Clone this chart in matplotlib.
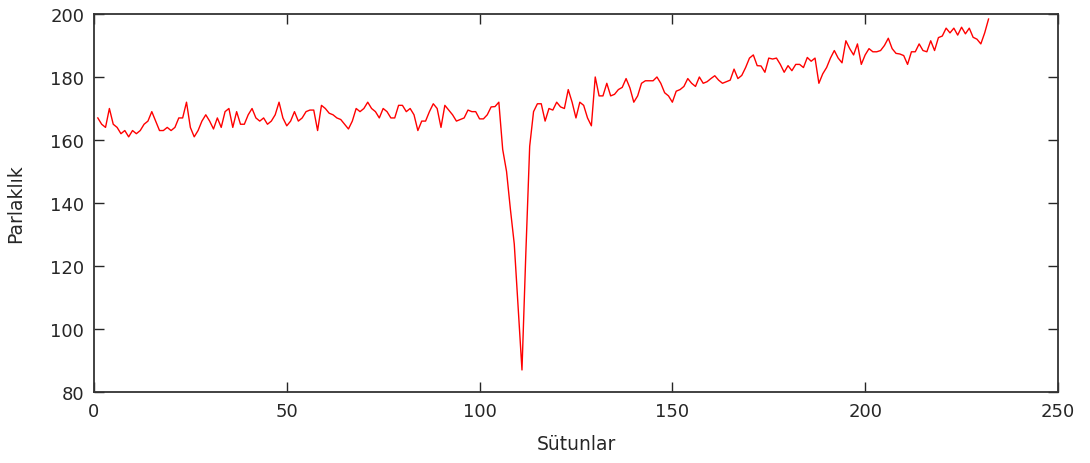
import numpy as np
import matplotlib.pyplot as plt

# Parlaklık değerleri, sütun 1..232 (görselden okunmuş)
parlaklik = [
    167, 165, 164, 170, 165, 164, 162, 163, 161, 163,
    162, 163, 165, 166, 169, 166, 163, 163, 164, 163,
    164, 167, 167, 172, 164, 161, 163, 166, 168, 166,
    163.5, 167, 164, 169, 170, 164, 169, 165, 165, 168,
    170, 167, 166, 167, 165, 166, 168, 172, 167, 164.5,
    166, 169, 166, 167, 169, 169.5, 169.5, 163, 171, 170,
    168.5, 168, 167, 166.5, 165, 163.5, 166, 170, 169, 170,
    172, 170, 169, 167, 170, 169, 167, 167, 171, 171,
    169, 170, 168, 163, 166, 166, 169, 171.5, 170, 164,
    171, 169.5, 168, 166, 166.5, 167, 169.5, 169, 169, 166.7,
    166.7, 168, 170.5, 170.6, 172, 157, 150, 138, 127, 107,
    87, 124, 158, 169, 171.5, 171.5, 166, 170, 169.5, 172,
    170.5, 170, 176, 172, 167, 172, 171, 167, 164.5, 180,
    174, 174, 178, 174, 174.5, 176, 176.7, 179.5, 176.5, 172,
    174, 178, 178.8, 178.8, 178.8, 180, 178, 175, 174, 172,
    175.5, 176, 177, 179.5, 178, 177, 180, 178, 178.5, 179.5,
    180.4, 179, 178, 178.5, 179, 182.5, 179.5, 180.5, 183, 186,
    187, 183.6, 183.5, 181.5, 186, 185.7, 186, 184, 181.5, 183.6,
    182, 184, 184, 183, 186.2, 185, 186, 178, 181, 183,
    186, 188.4, 186, 184.5, 191.5, 189, 187, 190.5, 184, 187,
    189, 188, 188, 188.4, 190, 192.3, 189, 187.5, 187.3, 186.8,
    184, 188, 188, 190.5, 188.4, 188, 191.5, 188.4, 192.5, 193,
    195.5, 194, 195.5, 193.3, 195.8, 193.7, 195.5, 192.6, 192, 190.5,
    194, 198.4,
]
sutun = np.arange(1, len(parlaklik) + 1)

x_ticks = [0, 50, 100, 150, 200, 250]
y_ticks = [80, 100, 120, 140, 160, 180, 200]

plt.rcParams['font.family'] = ['DejaVu Sans']

fig = plt.figure(figsize=(10.9, 4.64), dpi=100)
ax = fig.add_axes([0.0862, 0.153, 0.8844, 0.8147])

ax.plot(sutun, parlaklik, color='red', linewidth=1.0)

ax.set_xlim(0, 250)
ax.set_ylim(80, 200)
ax.set_xticks(x_ticks)
ax.set_yticks(y_ticks)
ax.tick_params(direction='in', length=7, width=1, top=True, right=True,
               labelsize=13, colors='#262626', pad=7)
for s in ax.spines.values():
    s.set_color('#333333')
    s.set_linewidth(1.3)

ax.set_xlabel('Sütunlar', fontsize=13.5, color='#262626', labelpad=10)
ax.set_ylabel('Parlaklık', fontsize=13.5, color='#262626', labelpad=18)

fig.savefig('out.png', dpi=100)
